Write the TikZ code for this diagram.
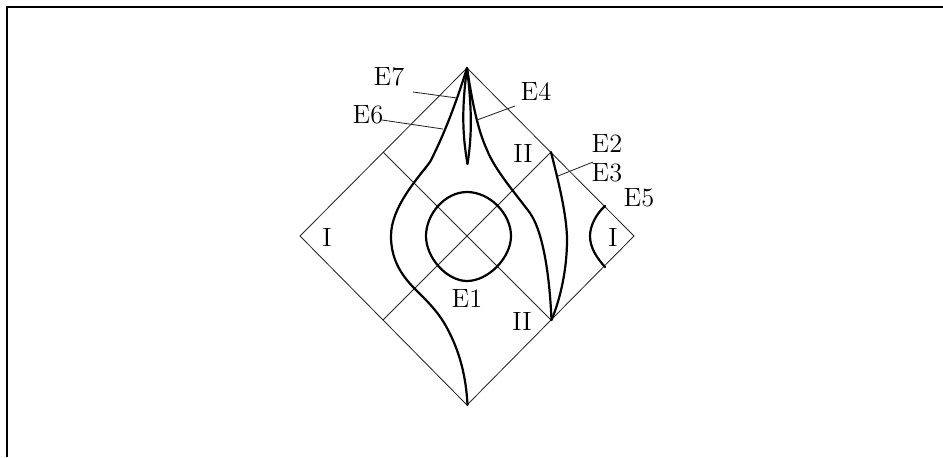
\documentclass[tikz,border=0pt]{standalone}
\tikzset{
  thinline/.style={line width=0.42pt,black!85},
  curve/.style={line width=1.1pt,black,line join=round,line cap=round},
  frameline/.style={line width=1pt,black},
  lab/.style={inner sep=0pt,font=\fontsize{13.2}{15}\selectfont},
}
\begin{document}
\begin{tikzpicture}[x=0.5pt,y=-0.5pt]
\useasboundingbox (0,0) rectangle (943,457);
\draw[frameline] (7,457) -- (7,7) -- (943,7);
% diamond
\coordinate (T) at (467,68);
\coordinate (L) at (300,236);
\coordinate (B) at (467,405);
\coordinate (R) at (634,236);
\coordinate (UL) at (383,152);
\coordinate (UR) at (551,152);
\coordinate (LL) at (383,320);
\coordinate (LR) at (551,320);
\draw[thinline] (T) -- (L) -- (B) -- (R) -- cycle;
\draw[thinline] (UL) -- (LR);
\draw[thinline] (LL) -- (UR);
% curves
\draw[curve] (T) .. controls (457,100) and (445,133) .. (430,162)
  .. controls (418,178) and (391,207) .. (391,236)
  .. controls (391,258) and (400,274) .. (415,289)
  .. controls (425,299) and (438,311) .. (447,328)
  .. controls (459,350) and (466,375) .. (467.5,405);
\draw[curve] (T) .. controls (472,100) and (477,128) .. (487,150)
  .. controls (495,170) and (515,193) .. (530,213)
  .. controls (545,235) and (550,285) .. (551.5,320);
\draw[curve] (UR) .. controls (558,180) and (567,215) .. (567,240)
  .. controls (567,270) and (560,300) .. (551.5,320);
\draw[curve] (605,206) .. controls (596,214) and (590,226) .. (590,236)
  .. controls (590,248) and (597,258) .. (605,267);
\draw[curve] (467,192) .. controls (490,192) and (511,214) .. (511,236)
  .. controls (511,258) and (488,281) .. (467,281)
  .. controls (447,281) and (426,258) .. (426,236)
  .. controls (426,214) and (445,192) .. cycle;
\draw[curve] (T) .. controls (461.5,110) and (462.5,135) .. (467.5,164);
\draw[curve] (T) .. controls (472,110) and (472,135) .. (467.5,164);
% labels
\node[lab] (e7) at (389,77) {E7};
\node[lab] (e6) at (368,115) {E6};
\node[lab] (e4) at (536,92) {E4};
\node[lab] (ii1) at (523,153) {II};
\node[lab] (e2) at (607,144) {E2};
\node[lab] (e3) at (607,173) {E3};
\node[lab] (e5) at (639,198) {E5};
\node[lab] (i2) at (613,237) {I};
\node[lab] (i1) at (327,237) {I};
\node[lab] (e1) at (467,299) {E1};
\node[lab] (ii2) at (522,321) {II};
% leaders
\coordinate (e7s) at (413,92);
\coordinate (e7e) at (457,98);
\coordinate (e6s) at (382,120);
\coordinate (e6e) at (443,129);
\coordinate (e4s) at (515,106);
\coordinate (e4e) at (477,120);
\coordinate (e2s) at (593,162);
\coordinate (e2e) at (558,176);
\draw[thinline] (e7s) -- (e7e);
\draw[thinline] (e6s) -- (e6e);
\draw[thinline] (e4s) -- (e4e);
\draw[thinline] (e2s) -- (e2e);
\end{tikzpicture}
\end{document}
